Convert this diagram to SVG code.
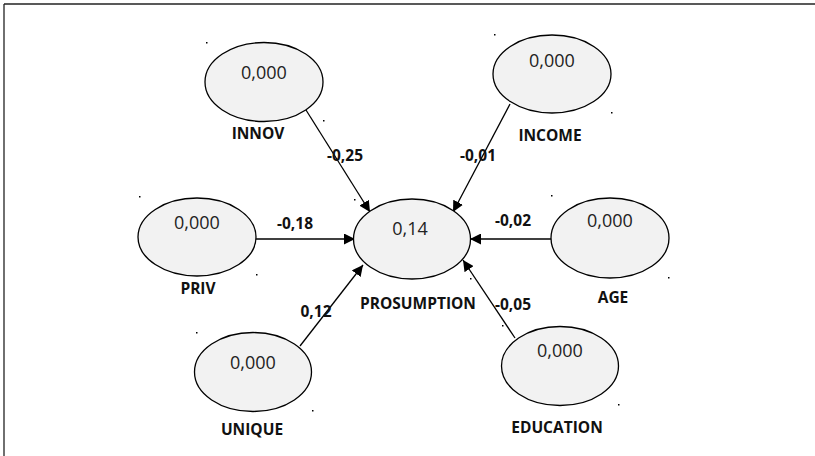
<svg xmlns="http://www.w3.org/2000/svg" width="815" height="456" viewBox="0 0 815 456">
<defs>
<marker id="ah" viewBox="0 0 10 10" refX="10" refY="5" markerWidth="11" markerHeight="11" markerUnits="userSpaceOnUse" orient="auto">
<path d="M0,0 L10,5 L0,10 z" fill="#000"/>
</marker>
<style>
.n{fill:#f2f2f2;stroke:#000;stroke-width:1.3}
.v{font-family:"Open Sans","Liberation Sans",sans-serif;font-size:18px;fill:#222;text-anchor:middle}
.l{font-family:"Open Sans","Liberation Sans",sans-serif;font-size:15.5px;font-weight:bold;fill:#111;text-anchor:middle}
.c{stroke:#000;stroke-width:1.3;fill:none;marker-end:url(#ah)}
.d{fill:#000}
</style>
</defs>
<rect width="815" height="456" fill="#fff"/>
<line x1="4" y1="4" x2="815" y2="4" stroke="#222" stroke-width="1.3"/>
<line x1="4" y1="4" x2="4" y2="456" stroke="#222" stroke-width="1.3"/>
<g id="connectors">
<line class="c" x1="306" y1="110" x2="370" y2="212"/>
<line class="c" x1="510" y1="104" x2="453" y2="212"/>
<line class="c" x1="256" y1="239" x2="355" y2="239"/>
<line class="c" x1="551" y1="239" x2="470" y2="239"/>
<line class="c" x1="300" y1="346" x2="363" y2="265"/>
<line class="c" x1="515" y1="338" x2="463" y2="260"/>
<text class="l" x="345" y="161">-0,25</text>
<text class="l" x="478" y="161">-0,01</text>
<text class="l" x="295" y="229">-0,18</text>
<text class="l" x="513" y="226">-0,02</text>
<text class="l" x="316" y="317">0,12</text>
<text class="l" x="513" y="310">-0,05</text>
</g>
<g id="innov">
<ellipse class="n" cx="264" cy="82" rx="59" ry="39.5"/>
<text class="v" x="264" y="79">0,000</text>
<text class="l" x="258" y="139">INNOV</text>
<rect class="d" x="206" y="42" width="1.5" height="1.5"/>
<rect class="d" x="323" y="120" width="1.5" height="1.5"/>
</g>
<g id="income">
<ellipse class="n" cx="552" cy="74" rx="59" ry="39"/>
<text class="v" x="552" y="67">0,000</text>
<text class="l" x="550" y="141">INCOME</text>
<rect class="d" x="494" y="34" width="1.5" height="1.5"/>
<rect class="d" x="611" y="112" width="1.5" height="1.5"/>
</g>
<g id="priv">
<ellipse class="n" cx="197" cy="237" rx="59" ry="39"/>
<text class="v" x="197" y="229">0,000</text>
<text class="l" x="198" y="294">PRIV</text>
<rect class="d" x="139" y="196" width="1.5" height="1.5"/>
<rect class="d" x="256" y="274" width="1.5" height="1.5"/>
</g>
<g id="prosumption">
<ellipse class="n" cx="412" cy="239" rx="58.5" ry="40"/>
<text class="v" x="410" y="235">0,14</text>
<text class="l" x="418" y="309">PROSUMPTION</text>
<rect class="d" x="354" y="199" width="1.5" height="1.5"/>
<rect class="d" x="470" y="278" width="1.5" height="1.5"/>
</g>
<g id="age">
<ellipse class="n" cx="610" cy="238" rx="59" ry="40"/>
<text class="v" x="610" y="227">0,000</text>
<text class="l" x="613" y="303">AGE</text>
<rect class="d" x="551" y="195" width="1.5" height="1.5"/>
<rect class="d" x="668" y="277" width="1.5" height="1.5"/>
</g>
<g id="unique">
<ellipse class="n" cx="253" cy="372" rx="58.5" ry="39.5"/>
<text class="v" x="253" y="369">0,000</text>
<text class="l" x="252" y="435">UNIQUE</text>
<rect class="d" x="196" y="332" width="1.5" height="1.5"/>
<rect class="d" x="312" y="410" width="1.5" height="1.5"/>
</g>
<g id="education">
<ellipse class="n" cx="560" cy="366" rx="58.5" ry="39.5"/>
<text class="v" x="560" y="357">0,000</text>
<text class="l" x="557" y="433">EDUCATION</text>
<rect class="d" x="502" y="325" width="1.5" height="1.5"/>
<rect class="d" x="618" y="404" width="1.5" height="1.5"/>
</g>
</svg>
